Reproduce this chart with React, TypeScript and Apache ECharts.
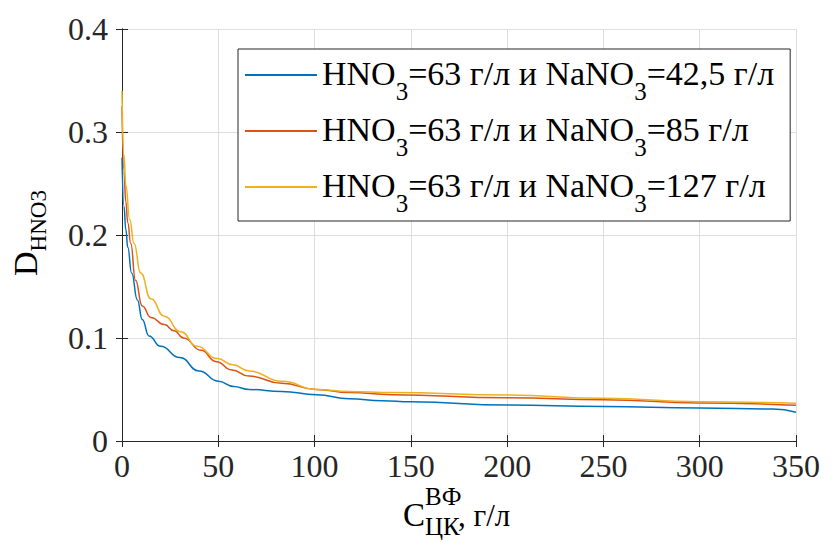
import React, { useEffect, useRef } from 'react';
import * as echarts from 'echarts';

const FONT = 'Liberation Serif, Times New Roman, serif';

const xTicks = [0, 50, 100, 150, 200, 250, 300, 350];
const yTicks = [0, 0.1, 0.2, 0.3, 0.4];

const naNO3Values = ['42,5', '85', '127'];
const seriesNames = naNO3Values.map((v) => `HNO3=63 г/л и NaNO3=${v} г/л`);
const seriesColors = ['#0072BD', '#D95319', '#EDB120'];

const blueX = [0, 1, 2, 3, 5, 8, 10.5, 14, 20, 30, 40, 50, 58, 66, 83, 101, 118, 135, 150, 200, 250, 300, 338, 350];
const blueY = [0.275, 0.228, 0.205, 0.188, 0.163, 0.137, 0.118, 0.102, 0.092, 0.081, 0.068, 0.058, 0.053, 0.05, 0.048, 0.045, 0.041, 0.039, 0.038, 0.035, 0.0335, 0.032, 0.031, 0.028];

const orangeX = [0, 1, 2, 3, 4.5, 7, 10.5, 15, 22, 27, 32, 41, 49, 57, 66, 83, 101, 118, 140, 200, 250, 300, 350];
const orangeY = [0.325, 0.262, 0.232, 0.212, 0.192, 0.156, 0.131, 0.12, 0.113, 0.107, 0.1, 0.088, 0.077, 0.069, 0.063, 0.056, 0.05, 0.047, 0.045, 0.042, 0.04, 0.037, 0.0346];

const yellowX = [0, 1, 2, 4, 6.2, 9.7, 15, 22, 30.5, 39, 49.5, 57.5, 66, 83, 101, 118, 140, 200, 250, 300, 350];
const yellowY = [0.34, 0.278, 0.248, 0.215, 0.192, 0.163, 0.138, 0.121, 0.106, 0.092, 0.08, 0.074, 0.068, 0.058, 0.05, 0.048, 0.047, 0.0447, 0.0414, 0.038, 0.0366];

const xs = [blueX, orangeX, yellowX];
const ys = [blueY, orangeY, yellowY];

export default function App() {
  const ref = useRef<HTMLDivElement>(null);
  useEffect(() => {
    const chart = echarts.init(ref.current!, null, { renderer: 'svg' });
    const axisColor = '#262626';
    const gridColor = '#dedede';
    const xCommon = {
      type: 'value',
      min: xTicks[0],
      max: xTicks[xTicks.length - 1],
      interval: 50,
      axisLine: { show: true, lineStyle: { color: axisColor, width: 1 } },
      axisTick: { show: true, inside: true, length: 6, lineStyle: { color: axisColor } },
    };
    const yCommon = {
      type: 'value',
      min: yTicks[0],
      max: yTicks[yTicks.length - 1],
      interval: 0.1,
      axisLine: { show: true, lineStyle: { color: axisColor, width: 1 } },
      axisTick: { show: true, inside: true, length: 6, lineStyle: { color: axisColor } },
    };
    chart.setOption({
      animation: false,
      backgroundColor: '#ffffff',
      textStyle: { fontFamily: FONT },
      grid: { left: 122, right: 42, top: 29, bottom: 113, containLabel: false },
      xAxis: [
        {
          ...xCommon,
          position: 'bottom',
          axisLabel: { show: true, margin: 9, color: '#262626', fontFamily: FONT, fontSize: 32 },
          splitLine: { show: true, lineStyle: { color: gridColor, width: 1 } },
        },
        {
          ...xCommon,
          position: 'top',
          axisLabel: { show: false },
          splitLine: { show: false },
        },
      ],
      yAxis: [
        {
          ...yCommon,
          position: 'left',
          axisLabel: {
            show: true,
            margin: 14,
            color: '#262626',
            fontFamily: FONT,
            fontSize: 32,
            formatter: (v: number) => (v === 0 ? '0' : String(Math.round(v * 10) / 10)),
          },
          splitLine: { show: true, lineStyle: { color: gridColor, width: 1 } },
        },
        {
          ...yCommon,
          position: 'right',
          axisLabel: { show: false },
          splitLine: { show: false },
        },
      ],
      legend: {
        orient: 'vertical',
        left: 238,
        top: 49,
        padding: [7, 16, 5, 7],
        itemGap: 8,
        itemWidth: 72,
        itemHeight: 2,
        icon: 'rect',
        selectedMode: false,
        backgroundColor: '#ffffff',
        borderColor: axisColor,
        borderWidth: 1,
        data: seriesNames,
        formatter: (name: string) => {
          const i = seriesNames.indexOf(name);
          return `{t|HNO}{s|3}{t|=63 г/л и NaNO}{s|3}{t|=${naNO3Values[i]} г/л}`;
        },
        textStyle: {
          fontFamily: FONT,
          color: '#000',
          rich: {
            t: { fontFamily: FONT, fontSize: 34, lineHeight: 38, verticalAlign: 'top', color: '#000' },
            s: { fontFamily: FONT, fontSize: 25, lineHeight: 25, padding: [23, 0, 0, 0], verticalAlign: 'top', color: '#000' },
          },
        },
      },
      series: seriesNames.map((name, i) => ({
        name,
        type: 'line',
        xAxisIndex: 0,
        yAxisIndex: 0,
        showSymbol: false,
        symbol: 'none',
        smooth: 0.5,
        smoothMonotone: 'x',
        color: seriesColors[i],
        lineStyle: { color: seriesColors[i], width: 1.5 },
        data: xs[i].map((x, k) => [x, ys[i][k]]),
        z: 2 + i,
      })),
      graphic: [
        {
          type: 'text',
          x: 26,
          y: 233,
          rotation: Math.PI / 2,
          style: {
            text: '{d|D}{s|HNO3}',
            align: 'center',
            verticalAlign: 'middle',
            rich: {
              d: { fontFamily: FONT, fontSize: 34, lineHeight: 36, verticalAlign: 'top', fill: '#000' },
              s: { fontFamily: FONT, fontSize: 23, lineHeight: 24, padding: [19, 0, 0, 0], verticalAlign: 'top', fill: '#000' },
            },
          },
        },
        {
          type: 'text',
          x: 403,
          y: 515,
          style: { text: 'C', fontFamily: FONT, fontSize: 33, fill: '#000', align: 'left', verticalAlign: 'middle' },
        },
        {
          type: 'text',
          x: 425,
          y: 496,
          style: { text: 'ВФ', fontFamily: FONT, fontSize: 25, fill: '#000', align: 'left', verticalAlign: 'middle' },
        },
        {
          type: 'text',
          x: 425,
          y: 526,
          style: { text: 'ЦК', fontFamily: FONT, fontSize: 25, fill: '#000', align: 'left', verticalAlign: 'middle' },
        },
        {
          type: 'text',
          x: 458,
          y: 515,
          style: { text: ', г/л', fontFamily: FONT, fontSize: 31, fill: '#000', align: 'left', verticalAlign: 'middle' },
        },
      ],
    });
    return () => chart.dispose();
  }, []);
  return (
    <div
      ref={ref}
      style={{ position: 'fixed', left: 0, top: 0, width: 838, height: 554, background: '#fff' }}
    />
  );
}
